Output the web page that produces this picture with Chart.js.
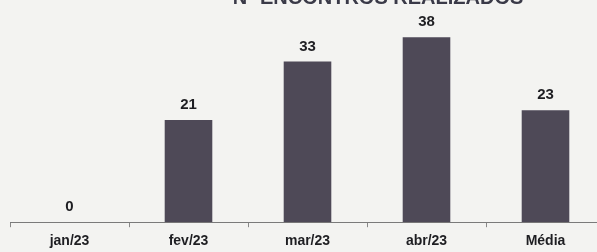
<!DOCTYPE html>
<html>
<head>
<meta charset="utf-8">
<script src="https://cdn.jsdelivr.net/npm/chart.js@4"></script>
<style>
html,body{margin:0;padding:0;background:#f3f3f1;overflow:hidden;width:597px;height:252px;}
#wrap{position:absolute;left:0;top:0;width:615px;height:258px;}
</style>
</head>
<body>
<div id="wrap"><canvas id="c" width="615" height="258"></canvas></div>
<script>
const titleText = "Nº ENCONTROS REALIZADOS";
const categories = ["jan/23", "fev/23", "mar/23", "abr/23", "Média"];
const values = [0, 21, 33, 38, 23];
const yMax = 44;

const titlePlugin = {
  id: 'clippedTitle',
  afterDraw(chart) {
    const ctx = chart.ctx;
    ctx.save();
    ctx.font = 'bold 20px "Liberation Sans", Arial, sans-serif';
    ctx.fillStyle = '#3a3a48';
    ctx.textAlign = 'center';
    ctx.textBaseline = 'alphabetic';
    ctx.fillText(titleText, 378, 4);
    ctx.restore();
  }
};

const valueLabels = {
  id: 'valueLabels',
  afterDatasetsDraw(chart) {
    const ctx = chart.ctx;
    const meta = chart.getDatasetMeta(0);
    ctx.save();
    ctx.font = 'bold 15px "Liberation Sans", Arial, sans-serif';
    ctx.fillStyle = '#1e1e22';
    ctx.textAlign = 'center';
    ctx.textBaseline = 'alphabetic';
    meta.data.forEach((bar, i) => {
      ctx.fillText(String(values[i]), bar.x, bar.y - 11);
    });
    ctx.restore();
  }
};

new Chart(document.getElementById('c'), {
  type: 'bar',
  data: {
    labels: categories,
    datasets: [{
      data: values,
      backgroundColor: '#4e4957',
      borderWidth: 0,
      barPercentage: 0.4,
      categoryPercentage: 1.0
    }]
  },
  options: {
    responsive: false,
    animation: false,
    layout: { padding: { left: 10, right: 10, top: 8, bottom: 2 } },
    plugins: { legend: { display: false }, tooltip: { enabled: false }, title: { display: false } },
    scales: {
      x: {
        offset: true,
        grid: { display: true, drawOnChartArea: false, drawTicks: true, tickLength: 5, color: '#888' },
        border: { display: true, color: '#7a7a7a', width: 1 },
        ticks: {
          color: '#1e1e22',
          padding: 6,
          font: { family: '"Liberation Sans", Arial, sans-serif', size: 14, weight: 'bold' }
        }
      },
      y: {
        display: false,
        min: 0,
        max: yMax
      }
    }
  },
  plugins: [titlePlugin, valueLabels]
});
</script>
</body>
</html>
